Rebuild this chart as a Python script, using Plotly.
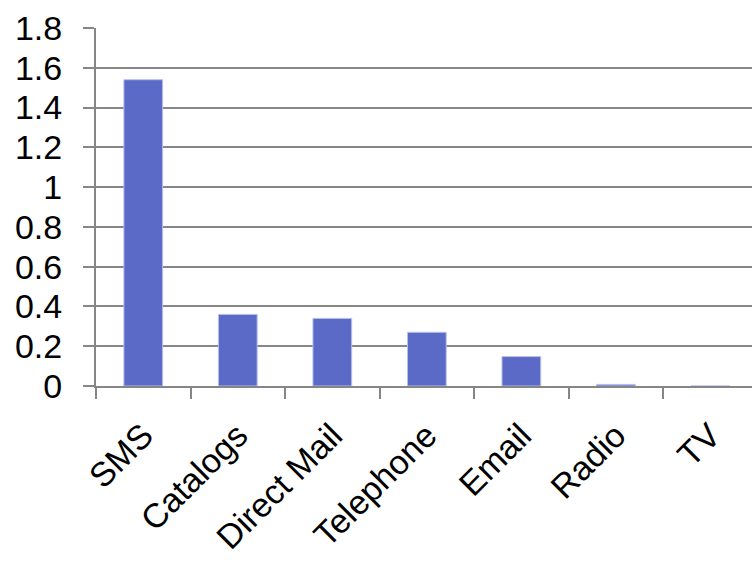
import plotly.graph_objects as go

categories = ["SMS", "Catalogs", "Direct Mail", "Telephone", "Email", "Radio", "TV"]
values = [1.54, 0.36, 0.34, 0.27, 0.148, 0.008, 0.0]
y_ticks = [0, 0.2, 0.4, 0.6, 0.8, 1.0, 1.2, 1.4, 1.6, 1.8]
y_labels = ["0", "0.2", "0.4", "0.6", "0.8", "1", "1.2", "1.4", "1.6", "1.8"]

grid = "#868686"
fig = go.Figure(go.Bar(
    x=categories, y=values, width=0.41,
    marker=dict(color="#5B6AC6", line=dict(color="#B9C0EC", width=1)),
))
fig.update_layout(
    width=752, height=562,
    margin=dict(l=96, r=0, t=28, b=176),
    paper_bgcolor="white", plot_bgcolor="white",
    font=dict(family="Liberation Sans, Arial, sans-serif", size=34, color="black"),
    showlegend=False,
)
fig.update_xaxes(
    range=[-0.5, 6.44], tickangle=-45, tickson="boundaries",
    ticks="outside", ticklen=11, tickwidth=2, tickcolor=grid,
    showline=True, linecolor=grid, linewidth=2, showgrid=False,
    tickfont=dict(size=34), ticklabelstandoff=14,
)
fig.update_yaxes(
    range=[0, 1.8], tickvals=y_ticks, ticktext=y_labels,
    ticks="outside", ticklen=11, tickwidth=2, tickcolor=grid,
    showline=True, linecolor=grid, linewidth=2,
    showgrid=True, gridcolor=grid, gridwidth=2, zeroline=False,
    ticklabelstandoff=14, tickfont=dict(size=34),
)
fig.write_html("out.html")
